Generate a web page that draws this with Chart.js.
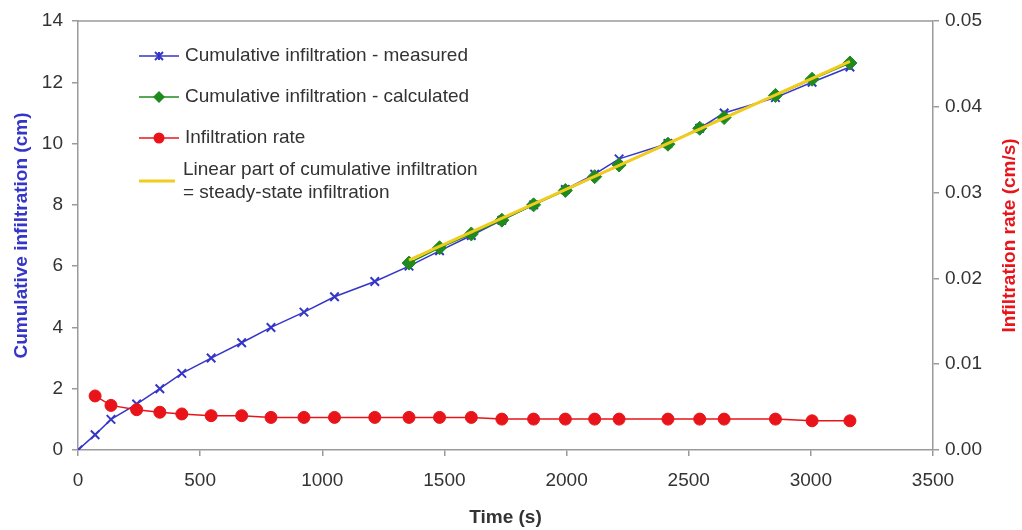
<!DOCTYPE html>
<html lang="en">
<head>
<meta charset="UTF-8">
<title>Infiltration test</title>
<style>
  html, body { margin: 0; padding: 0; background: #fff; }
  #wrap { position: relative; width: 1022px; height: 530px; }
</style>
</head>
<body>
<div id="wrap"><canvas id="chart" width="1022" height="530"></canvas></div>
<script src="https://cdn.jsdelivr.net/npm/chart.js"></script>
<script>
// time (s) of each reading
const times = [0, 70, 135, 240, 335, 425, 545, 670, 790, 925, 1050, 1215, 1355, 1480, 1610, 1735, 1865, 1995, 2115, 2215, 2415, 2545, 2645, 2855, 3005, 3160];
// cumulative infiltration measured (cm)
const measured = [0, 0.5, 1, 1.5, 2, 2.5, 3, 3.5, 4, 4.5, 5, 5.5, 6, 6.5, 7, 7.5, 8, 8.5, 9, 9.5, 10, 10.5, 11, 11.5, 12, 12.5];
// calculated part (cm)
const calcTimes = [1355, 1480, 1610, 1735, 1865, 1995, 2115, 2215, 2415, 2545, 2645, 2855, 3005, 3160];
const calculated = [6.1, 6.6, 7.05, 7.5, 8.0, 8.47, 8.92, 9.3, 9.98, 10.5, 10.85, 11.57, 12.1, 12.63];
// infiltration rate (cm/s)
const rateTimes = [70, 135, 240, 335, 425, 545, 670, 790, 925, 1050, 1215, 1355, 1480, 1610, 1735, 1865, 1995, 2115, 2215, 2415, 2545, 2645, 2855, 3005, 3160];
const rate = [0.0063, 0.0052, 0.0047, 0.0044, 0.0042, 0.0040, 0.0040, 0.0038, 0.0038, 0.0038, 0.0038, 0.0038, 0.0038, 0.0038, 0.0036, 0.0036, 0.0036, 0.0036, 0.0036, 0.0036, 0.0036, 0.0036, 0.0036, 0.0034, 0.0034];
// linear (steady-state) part
const linTimes = [1355, 3160];
const linear = [6.2, 12.68];

const xTicks = [0, 500, 1000, 1500, 2000, 2500, 3000, 3500];
const yTicks = [0, 2, 4, 6, 8, 10, 12, 14];
const y2Ticks = [0, 0.01, 0.02, 0.03, 0.04, 0.05];

const BLUE = '#3535c8', GREEN = '#1f8a1f', RED = '#e8141a', YELLOW = '#f2cc1c';
const FONT = '"Liberation Sans", Arial, sans-serif';
const pts = (xs, ys) => xs.map((x, i) => ({x: x, y: ys[i]}));

const legendItems = [
  {label: ['Cumulative infiltration - measured'], color: BLUE, marker: 'x'},
  {label: ['Cumulative infiltration - calculated'], color: GREEN, marker: 'diamond'},
  {label: ['Infiltration rate'], color: RED, marker: 'circle'},
  {label: ['Linear part of cumulative infiltration', '= steady-state infiltration'], color: YELLOW, marker: null}
];

const extras = {
  id: 'extras',
  afterDraw(chart) {
    const ctx = chart.ctx, a = chart.chartArea;
    ctx.save();
    // top border of plot
    ctx.strokeStyle = '#9a9a9a';
    ctx.lineWidth = 1.5;
    ctx.beginPath();
    ctx.moveTo(a.left, a.top);
    ctx.lineTo(a.right, a.top);
    ctx.stroke();

    // right axis title, reading upward
    ctx.fillStyle = RED;
    ctx.font = 'bold 19px ' + FONT;
    ctx.textAlign = 'center';
    ctx.textBaseline = 'middle';
    ctx.translate(1010, (a.top + a.bottom) / 2);
    ctx.rotate(-Math.PI / 2);
    ctx.fillText('Infiltration rate (cm/s)', 0, 0);
    ctx.restore();

    // legend
    ctx.save();
    ctx.font = '19px ' + FONT;
    ctx.textBaseline = 'middle';
    ctx.textAlign = 'left';
    const rows = [56, 97, 138, 181];
    legendItems.forEach((it, i) => {
      const y = rows[i];
      ctx.strokeStyle = it.color;
      ctx.lineWidth = it.marker ? 1.5 : 3;
      ctx.beginPath();
      ctx.moveTo(139, y);
      ctx.lineTo(it.marker ? 179 : 175, y);
      ctx.stroke();
      ctx.fillStyle = it.color;
      if (it.marker === 'x') {
        ctx.lineWidth = 2;
        ctx.beginPath();
        ctx.moveTo(155, y - 4); ctx.lineTo(163, y + 4);
        ctx.moveTo(163, y - 4); ctx.lineTo(155, y + 4);
        ctx.moveTo(159, y - 4); ctx.lineTo(159, y + 4);
        ctx.stroke();
      } else if (it.marker === 'diamond') {
        ctx.beginPath();
        ctx.moveTo(159, y - 6); ctx.lineTo(165, y); ctx.lineTo(159, y + 6); ctx.lineTo(153, y);
        ctx.closePath(); ctx.fill();
      } else if (it.marker === 'circle') {
        ctx.beginPath();
        ctx.arc(159, y, 5.5, 0, Math.PI * 2);
        ctx.fill();
      }
      ctx.fillStyle = '#333';
      if (it.label.length === 1) {
        ctx.fillText(it.label[0], 185, y);
      } else {
        ctx.fillText(it.label[0], 183, y - 11);
        ctx.fillText(it.label[1], 183, y + 12);
      }
    });
    ctx.restore();
  }
};

new Chart(document.getElementById('chart'), {
  type: 'line',
  data: {
    datasets: [
      {
        label: 'Cumulative infiltration - measured',
        data: pts(times, measured),
        yAxisID: 'y',
        borderColor: BLUE, backgroundColor: BLUE,
        borderWidth: 1.5,
        pointStyle: 'crossRot', pointRadius: 6, pointBorderWidth: 2,
        order: 4
      },
      {
        label: 'Cumulative infiltration - calculated',
        data: pts(calcTimes, calculated),
        yAxisID: 'y',
        borderColor: GREEN, backgroundColor: GREEN,
        borderWidth: 1.5,
        pointStyle: 'rectRot', pointRadius: 7, pointBorderWidth: 1,
        order: 2
      },
      {
        label: 'Infiltration rate',
        data: pts(rateTimes, rate),
        yAxisID: 'y2',
        borderColor: RED, backgroundColor: RED,
        borderWidth: 1.5,
        pointStyle: 'circle', pointRadius: 6, pointBorderWidth: 1,
        order: 3
      },
      {
        label: 'Linear part of cumulative infiltration = steady-state infiltration',
        data: pts(linTimes, linear),
        yAxisID: 'y',
        borderColor: YELLOW, backgroundColor: YELLOW,
        borderWidth: 3, pointRadius: 0,
        order: 1
      }
    ]
  },
  options: {
    responsive: false,
    animation: false,
    layout: {padding: {top: 21, right: 0, left: 0, bottom: 0}},
    plugins: {legend: {display: false}, tooltip: {enabled: false}},
    scales: {
      x: {
        type: 'linear', min: 0, max: 3500,
        afterFit: s => { s.height = 80; },
        afterBuildTicks: s => { s.ticks = xTicks.map(v => ({value: v})); },
        grid: {display: true, drawOnChartArea: false, drawTicks: true, tickLength: 6, color: '#9a9a9a', lineWidth: 1.5},
        border: {color: '#9a9a9a', width: 1.5},
        ticks: {color: '#333', font: {family: FONT, size: 19}, padding: 13, maxRotation: 0, callback: v => String(v)},
        title: {display: true, text: 'Time (s)', color: '#333', font: {family: FONT, size: 19, weight: 'bold'}, padding: {top: 0, bottom: 1}}
      },
      y: {
        position: 'left', min: 0, max: 14,
        afterFit: s => { s.width = 78; },
        afterBuildTicks: s => { s.ticks = yTicks.map(v => ({value: v})); },
        grid: {display: true, drawOnChartArea: false, drawTicks: true, tickLength: 6, color: '#9a9a9a', lineWidth: 1.5},
        border: {color: '#9a9a9a', width: 1.5},
        ticks: {color: '#333', font: {family: FONT, size: 19}, padding: 9, callback: v => String(v)},
        title: {display: true, text: 'Cumulative infiltration (cm)', color: BLUE, font: {family: FONT, size: 19, weight: 'bold'}, padding: {top: 10, bottom: 0}}
      },
      y2: {
        position: 'right', min: 0, max: 0.05,
        afterFit: s => { s.width = 89; },
        afterBuildTicks: s => { s.ticks = y2Ticks.map(v => ({value: v})); },
        grid: {display: true, drawOnChartArea: false, drawTicks: true, tickLength: 6, color: '#9a9a9a', lineWidth: 1.5},
        border: {color: '#9a9a9a', width: 1.5},
        ticks: {color: '#333', font: {family: FONT, size: 19}, padding: 6, callback: v => v.toFixed(2)}
      }
    }
  },
  plugins: [extras]
});
</script>
</body>
</html>
